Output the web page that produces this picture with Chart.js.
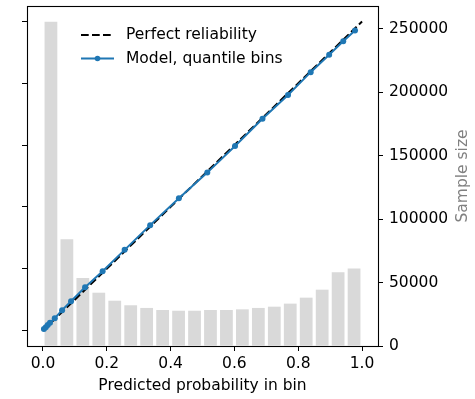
<!DOCTYPE html>
<html>
<head>
<meta charset="utf-8">
<title>Reliability diagram</title>
<script src="https://cdn.jsdelivr.net/npm/chart.js@4.4.1/dist/chart.umd.min.js"></script>
<style>
    body { margin: 0; background: #fff; }
    #wrap { width: 475px; height: 399px; }
</style>
</head>
<body>
<div id="wrap"><canvas id="reliability-canvas" width="475" height="399"></canvas></div>
<script>
// histogram of predictions (20 equal bins)
const binCenters = [0.025, 0.075, 0.125, 0.175, 0.225, 0.275, 0.325, 0.375, 0.425, 0.475,
                    0.525, 0.575, 0.625, 0.675, 0.725, 0.775, 0.825, 0.875, 0.925, 0.975];
const binCounts = [255500, 84100, 53600, 42000, 35700, 32100, 30000, 28400, 27800, 27800,
                   28400, 28400, 28900, 30000, 31000, 33400, 38100, 44400, 58100, 61000];

// model calibration curve, quantile bins
const meanPredicted = [0.003, 0.009, 0.015, 0.022, 0.037, 0.060, 0.088, 0.132, 0.187, 0.256,
                       0.336, 0.426, 0.515, 0.602, 0.688, 0.768, 0.839, 0.897, 0.941, 0.978];
const fractionPositive = [0.005, 0.011, 0.018, 0.025, 0.040, 0.066, 0.095, 0.140, 0.192, 0.261,
                          0.341, 0.428, 0.511, 0.597, 0.685, 0.762, 0.836, 0.892, 0.936, 0.971];

const perfectX = [0, 1];
const probTicks = [0, 0.2, 0.4, 0.6, 0.8, 1.0];
const countTicks = [0, 50000, 100000, 150000, 200000, 250000];

const FONT = "'DejaVu Sans', 'Liberation Sans', sans-serif";
const FSIZE = 15.5;
const BLUE = "#1f77b4";
const DASH = [7.7, 3.3];

function toPoints(xs, ys) {
    return xs.map((x, i) => ({ x: x, y: ys[i] }));
}

// legend inside the axes (top left, no frame), the four spines,
// and the right axis title which reads bottom-to-top like matplotlib
const overlay = {
    id: "overlay",
    afterDraw(chart) {
        const ctx = chart.ctx;
        const a = chart.chartArea;
        const x0 = a.left + 54, x1 = a.left + 87;
        const rows = [a.top + 29, a.top + 52.5];
        ctx.save();
        ctx.lineWidth = 2;
        // Perfect reliability
        ctx.strokeStyle = "#000";
        ctx.setLineDash(DASH);
        ctx.beginPath();
        ctx.moveTo(x0, rows[0]);
        ctx.lineTo(x1, rows[0]);
        ctx.stroke();
        ctx.setLineDash([]);
        // Model
        ctx.strokeStyle = BLUE;
        ctx.beginPath();
        ctx.moveTo(x0, rows[1]);
        ctx.lineTo(x1, rows[1]);
        ctx.stroke();
        ctx.fillStyle = BLUE;
        ctx.beginPath();
        ctx.arc((x0 + x1) / 2, rows[1], 2.8, 0, Math.PI * 2);
        ctx.fill();

        ctx.fillStyle = "#000";
        ctx.font = FSIZE + "px " + FONT;
        ctx.textBaseline = "middle";
        ctx.fillText("Perfect reliability", x1 + 12, rows[0]);
        ctx.fillText("Model, quantile bins", x1 + 12, rows[1]);

        // axes frame
        ctx.strokeStyle = "#000";
        ctx.lineWidth = 1.1;
        ctx.strokeRect(a.left + 0.5, a.top + 0.5, a.right - a.left, a.bottom - a.top);

        // right axis title
        const y2 = chart.scales.y2;
        ctx.translate(y2.right - 12.5, (a.top + a.bottom) / 2);
        ctx.rotate(-Math.PI / 2);
        ctx.fillStyle = "#808080";
        ctx.textAlign = "center";
        ctx.textBaseline = "middle";
        ctx.fillText("Sample size", 0, 0);
        ctx.restore();
    }
};

function tickGrid() {
    return { offset: false, drawOnChartArea: false, drawTicks: true, tickLength: 5, tickColor: "#000", tickWidth: 1 };
}

// fixed axis box sizes so the plot area lands where the reference has it
function fixVertical(width) {
    return (s) => { s.width = width; s.paddingTop = 0; s.paddingBottom = 0; };
}

function buildChart() {
    const ctx = document.getElementById("reliability-canvas").getContext("2d");
    new Chart(ctx, {
        type: "bar",
        data: {
            datasets: [
                {
                    type: "line",
                    label: "Perfect reliability",
                    data: toPoints(perfectX, perfectX),
                    borderColor: "#000",
                    borderWidth: 2,
                    borderDash: DASH,
                    pointRadius: 0,
                    yAxisID: "y",
                    order: 1
                },
                {
                    type: "line",
                    label: "Model, quantile bins",
                    data: toPoints(meanPredicted, fractionPositive),
                    borderColor: BLUE,
                    backgroundColor: BLUE,
                    borderWidth: 2,
                    pointRadius: 3,
                    pointBorderWidth: 0,
                    pointBackgroundColor: BLUE,
                    yAxisID: "y",
                    order: 0
                },
                {
                    type: "bar",
                    label: "Sample size",
                    data: toPoints(binCenters, binCounts),
                    backgroundColor: "#d9d9d9",
                    borderWidth: 0,
                    categoryPercentage: 1.0,
                    barPercentage: 0.8,
                    yAxisID: "y2",
                    order: 2
                }
            ]
        },
        options: {
            responsive: false,
            animation: false,
            devicePixelRatio: 1,
            layout: { padding: { top: 6, left: 0, right: 0, bottom: 0 } },
            plugins: {
                legend: { display: false },
                tooltip: { enabled: false }
            },
            scales: {
                x: {
                    type: "linear",
                    min: -0.05,
                    max: 1.05,
                    offset: false,
                    border: { display: false },
                    grid: tickGrid(),
                    afterBuildTicks: (s) => { s.ticks = probTicks.map(v => ({ value: v })); },
                    ticks: {
                        padding: 4,
                        color: "#000",
                        font: { family: FONT, size: FSIZE },
                        maxRotation: 0,
                        callback: (v) => Number(v).toFixed(1)
                    },
                    title: {
                        display: true,
                        text: "Predicted probability in bin",
                        color: "#000",
                        font: { family: FONT, size: FSIZE },
                        padding: { top: 2, bottom: 4 }
                    },
                    afterFit: (s) => { s.height = 53; s.paddingLeft = 0; s.paddingRight = 0; }
                },
                y: {
                    type: "linear",
                    position: "left",
                    min: -0.05,
                    max: 1.05,
                    border: { display: false },
                    grid: tickGrid(),
                    afterBuildTicks: (s) => { s.ticks = probTicks.map(v => ({ value: v })); },
                    ticks: { display: false },
                    afterFit: fixVertical(27)
                },
                y2: {
                    type: "linear",
                    position: "right",
                    min: 0,
                    max: 268000,
                    border: { display: false },
                    grid: tickGrid(),
                    afterBuildTicks: (s) => { s.ticks = countTicks.map(v => ({ value: v })); },
                    ticks: {
                        padding: 6,
                        color: "#000",
                        font: { family: FONT, size: FSIZE },
                        callback: (v) => String(v)
                    },
                    afterFit: fixVertical(97)
                }
            }
        },
        plugins: [overlay]
    });
}

buildChart();
</script>
</body>
</html>
